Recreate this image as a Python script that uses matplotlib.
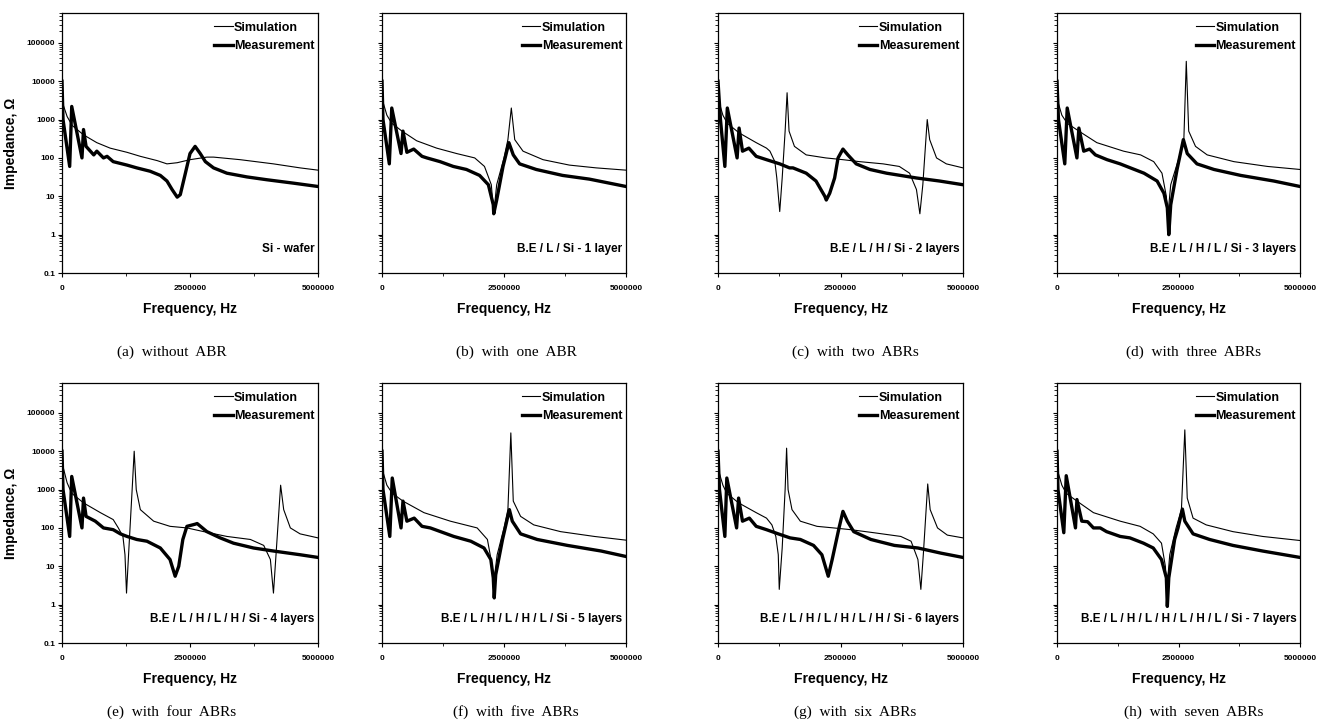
import numpy as np
import matplotlib
matplotlib.use("Agg")
import matplotlib.pyplot as plt
from matplotlib.ticker import FixedLocator, NullFormatter, LogLocator

# frequencies in MHz (converted to Hz when plotting), impedance in ohm
# (a) without ABR
a_meas_f = [0, 0.02, 0.15, 0.19, 0.39, 0.42, 0.47, 0.62, 0.68, 0.81, 0.88, 1.0, 1.27, 1.46, 1.72, 1.92, 2.05, 2.15, 2.25, 2.31, 2.41, 2.5, 2.6, 2.7, 2.8, 2.96, 3.22, 3.61, 4.0, 4.52, 5.0]
a_meas_z = [10000, 1000, 60, 2200, 100, 550, 200, 120, 150, 100, 110, 80, 65, 55, 45, 35, 25, 15, 9.5, 11, 40, 130, 200, 130, 80, 55, 40, 32, 27, 22, 18]
a_sim_f = [0, 0.1, 0.2, 0.42, 0.68, 0.94, 1.27, 1.53, 1.86, 2.05, 2.25, 2.5, 2.83, 2.96, 3.48, 4.13, 4.65, 5.0]
a_sim_z = [3000, 1200, 700, 400, 250, 180, 140, 110, 85, 70, 75, 90, 105, 105, 90, 70, 55, 48]

# (b) with one ABR
b_meas_f = [0, 0.02, 0.15, 0.2, 0.39, 0.43, 0.51, 0.65, 0.82, 0.92, 1.19, 1.46, 1.73, 2.0, 2.18, 2.28, 2.29, 2.35, 2.48, 2.6, 2.69, 2.82, 3.16, 3.7, 4.25, 5.0]
b_meas_z = [10000, 1000, 70, 2000, 130, 500, 140, 170, 110, 100, 80, 60, 50, 35, 20, 6, 3.5, 8, 60, 250, 120, 70, 50, 35, 28, 18]
b_sim_f = [0, 0.1, 0.2, 0.41, 0.71, 1.12, 1.53, 1.9, 2.1, 2.24, 2.29, 2.35, 2.5, 2.58, 2.65, 2.72, 2.89, 3.3, 3.84, 4.39, 5.0]
b_sim_z = [3500, 1300, 800, 500, 280, 180, 130, 100, 60, 20, 3.5, 20, 100, 300, 2000, 300, 150, 90, 65, 55, 48]

# (c) with two ABRs
c_meas_f = [0, 0.05, 0.14, 0.19, 0.39, 0.43, 0.5, 0.63, 0.78, 0.99, 1.26, 1.46, 1.53, 1.8, 2.0, 2.18, 2.21, 2.28, 2.38, 2.45, 2.55, 2.65, 2.82, 3.1, 3.44, 4.05, 4.52, 5.0]
c_meas_z = [10000, 1000, 60, 2000, 100, 600, 150, 180, 110, 90, 70, 55, 55, 40, 25, 10, 8, 12, 30, 100, 170, 120, 70, 50, 40, 30, 25, 20]
c_sim_f = [0, 0.1, 0.19, 0.43, 0.78, 0.99, 1.06, 1.16, 1.2, 1.26, 1.31, 1.37, 1.41, 1.45, 1.56, 1.8, 2.2, 2.55, 2.89, 3.37, 3.7, 3.91, 4.05, 4.12, 4.18, 4.27, 4.32, 4.46, 4.66, 5.0]
c_sim_z = [3500, 1300, 800, 450, 250, 180, 150, 80, 30, 4, 30, 500, 5000, 500, 200, 120, 100, 90, 80, 70, 60, 40, 15, 3.5, 20, 1000, 300, 100, 70, 55]

# (d) with three ABRs
d_meas_f = [0, 0.03, 0.16, 0.21, 0.41, 0.45, 0.55, 0.67, 0.79, 1.03, 1.3, 1.51, 1.79, 2.06, 2.2, 2.27, 2.3, 2.34, 2.47, 2.6, 2.68, 2.88, 3.23, 3.78, 4.46, 5.0]
d_meas_z = [10000, 1000, 70, 2000, 100, 600, 150, 170, 120, 90, 70, 55, 40, 25, 12, 5, 1, 6, 50, 300, 130, 70, 50, 35, 25, 18]
d_sim_f = [0, 0.1, 0.21, 0.45, 0.82, 1.37, 1.72, 1.99, 2.16, 2.25, 2.28, 2.34, 2.51, 2.61, 2.66, 2.71, 2.85, 3.09, 3.64, 4.33, 5.0]
d_sim_z = [3500, 1300, 800, 500, 250, 150, 120, 80, 40, 10, 3, 20, 100, 300, 33000, 500, 200, 120, 80, 60, 50]

# (e) with four ABRs
e_meas_f = [0, 0.02, 0.15, 0.19, 0.39, 0.42, 0.47, 0.65, 0.81, 1.0, 1.14, 1.27, 1.46, 1.66, 1.92, 2.11, 2.21, 2.28, 2.36, 2.44, 2.6, 2.64, 2.83, 3.09, 3.35, 3.74, 4.13, 4.65, 5.0]
e_meas_z = [10000, 1000, 60, 2200, 100, 600, 200, 150, 100, 90, 70, 60, 50, 45, 30, 15, 5.5, 10, 50, 110, 125, 130, 80, 55, 40, 30, 25, 20, 17]
e_sim_f = [0, 0.1, 0.19, 0.42, 0.75, 1.0, 1.1, 1.19, 1.23, 1.26, 1.3, 1.37, 1.41, 1.45, 1.53, 1.79, 2.11, 2.44, 2.77, 3.22, 3.68, 3.94, 4.07, 4.13, 4.18, 4.27, 4.33, 4.46, 4.65, 5.0]
e_sim_z = [5000, 1500, 800, 450, 250, 165, 100, 60, 20, 2, 20, 1000, 10000, 1000, 300, 150, 110, 100, 80, 60, 50, 35, 15, 2, 20, 1300, 300, 100, 70, 55]

# (f) with five ABRs
f_meas_f = [0, 0.02, 0.16, 0.21, 0.39, 0.43, 0.51, 0.66, 0.82, 0.99, 1.2, 1.47, 1.82, 2.09, 2.23, 2.28, 2.3, 2.33, 2.47, 2.61, 2.67, 2.84, 3.18, 3.8, 4.49, 5.0]
f_meas_z = [10000, 1000, 60, 2000, 100, 500, 150, 180, 110, 100, 80, 60, 45, 30, 15, 5, 1.5, 6, 50, 300, 150, 70, 50, 35, 25, 18]
f_sim_f = [0, 0.1, 0.21, 0.43, 0.86, 1.4, 1.95, 2.16, 2.26, 2.28, 2.36, 2.5, 2.58, 2.64, 2.69, 2.84, 3.11, 3.66, 4.35, 5.0]
f_sim_z = [3500, 1300, 800, 500, 250, 150, 100, 50, 10, 3, 20, 100, 300, 30000, 500, 200, 120, 80, 60, 48]

# (g) with six ABRs
g_meas_f = [0, 0.03, 0.14, 0.18, 0.38, 0.42, 0.5, 0.64, 0.78, 0.99, 1.23, 1.47, 1.68, 1.95, 2.12, 2.25, 2.33, 2.47, 2.55, 2.64, 2.77, 3.12, 3.6, 4.08, 4.55, 5.0]
g_meas_z = [10000, 1000, 60, 2000, 100, 600, 150, 180, 110, 90, 70, 55, 50, 35, 20, 5.5, 15, 100, 270, 150, 80, 50, 35, 30, 22, 17]
g_sim_f = [0, 0.1, 0.18, 0.42, 0.78, 0.99, 1.1, 1.18, 1.23, 1.25, 1.31, 1.37, 1.4, 1.43, 1.51, 1.68, 2.02, 2.36, 2.71, 3.18, 3.73, 3.94, 4.08, 4.14, 4.19, 4.28, 4.33, 4.48, 4.68, 5.0]
g_sim_z = [3500, 1300, 800, 450, 250, 180, 120, 60, 20, 2.5, 30, 1000, 12000, 1000, 300, 150, 110, 100, 90, 75, 60, 45, 15, 2.5, 20, 1400, 300, 100, 65, 55]

# (h) with seven ABRs
h_meas_f = [0, 0.02, 0.14, 0.19, 0.38, 0.41, 0.51, 0.63, 0.75, 0.89, 1.02, 1.3, 1.5, 1.78, 1.98, 2.15, 2.25, 2.27, 2.3, 2.42, 2.49, 2.58, 2.63, 2.8, 3.14, 3.62, 4.23, 5.0]
h_meas_z = [10000, 1000, 75, 2300, 100, 550, 150, 145, 100, 100, 80, 60, 55, 40, 30, 15, 5, 0.9, 5, 50, 100, 310, 150, 70, 50, 35, 25, 17]
h_sim_f = [0, 0.1, 0.19, 0.41, 0.75, 1.3, 1.71, 1.98, 2.15, 2.23, 2.26, 2.32, 2.45, 2.56, 2.63, 2.68, 2.8, 3.07, 3.62, 4.23, 5.0]
h_sim_z = [3500, 1300, 800, 500, 250, 150, 110, 70, 40, 10, 2.5, 20, 100, 300, 36000, 600, 180, 120, 80, 60, 47]

captions = ["(a)  without  ABR", "(b)  with  one  ABR", "(c)  with  two  ABRs", "(d)  with  three  ABRs",
            "(e)  with  four  ABRs", "(f)  with  five  ABRs", "(g)  with  six  ABRs", "(h)  with  seven  ABRs"]
notes = ["Si - wafer", "B.E / L / Si - 1 layer", "B.E / L / H / Si - 2 layers", "B.E / L / H / L / Si - 3 layers",
         "B.E / L / H / L / H / Si - 4 layers", "B.E / L / H / L / H / L / Si - 5 layers",
         "B.E / L / H / L / H / L / H / Si - 6 layers", "B.E / L / H / L / H / L / H / L / Si - 7 layers"]

sims = [(a_sim_f, a_sim_z), (b_sim_f, b_sim_z), (c_sim_f, c_sim_z), (d_sim_f, d_sim_z),
        (e_sim_f, e_sim_z), (f_sim_f, f_sim_z), (g_sim_f, g_sim_z), (h_sim_f, h_sim_z)]
meas = [(a_meas_f, a_meas_z), (b_meas_f, b_meas_z), (c_meas_f, c_meas_z), (d_meas_f, d_meas_z),
        (e_meas_f, e_meas_z), (f_meas_f, f_meas_z), (g_meas_f, g_meas_z), (h_meas_f, h_meas_z)]

W, H = 1325, 727
fig = plt.figure(figsize=(W / 100, H / 100), dpi=100)
sans = ["Liberation Sans Narrow", "Liberation Sans", "DejaVu Sans"]

# axes boxes in pixels: left, right (per column), top, bottom (per row)
cols = [(62, 318), (382, 626), (718, 963), (1057, 1300)]
rows = [(13, 273), (383, 643)]
cap_x = [172, 516, 855, 1194]
cap_y = [352, 712]

for i in range(8):
    r, c = divmod(i, 4)
    x0, x1 = cols[c]
    y0, y1 = rows[r]
    ax = fig.add_axes([x0 / W, 1 - y1 / H, (x1 - x0) / W, (y1 - y0) / H])
    sf, sz = sims[i]
    mf, mz = meas[i]
    ax.plot(np.array(sf) * 1e6, sz, color="black", lw=0.8, label="Simulation")
    ax.plot(np.array(mf) * 1e6, mz, color="black", lw=2.4, label="Measurement")
    ax.set_yscale("log")
    ax.set_xlim(0, 5e6)
    ax.set_ylim(0.1, 6e5)
    ax.set_xticks([0, 2500000, 5000000])
    ax.set_xticklabels(["0", "2500000", "5000000"], fontfamily=sans, fontsize=6, fontweight="bold")
    ax.xaxis.set_minor_locator(FixedLocator([1250000, 3750000]))
    ax.yaxis.set_major_locator(FixedLocator([0.1, 1, 10, 100, 1000, 10000, 100000]))
    ax.yaxis.set_minor_locator(LogLocator(base=10, subs=np.arange(2, 10)))
    ax.yaxis.set_minor_formatter(NullFormatter())
    ax.tick_params(axis="both", which="major", length=3, width=0.8, pad=6)
    ax.tick_params(axis="both", which="minor", length=2, width=0.6)
    if c == 0:
        ax.set_yticklabels(["0.1", "1", "10", "100", "1000", "10000", "100000"],
                           fontfamily=sans, fontsize=6, fontweight="bold")
        ax.tick_params(axis="y", pad=2)
        ax.set_ylabel("Impedance, Ω", fontfamily=sans, fontsize=10, fontweight="bold", labelpad=6)
    else:
        ax.set_yticklabels([])
    for s in ax.spines.values():
        s.set_linewidth(0.9)
    ax.set_xlabel("Frequency, Hz", fontfamily=sans, fontsize=10, fontweight="bold", labelpad=7)
    ax.legend(loc="upper right", bbox_to_anchor=(1.02, 1.0), frameon=False, handlelength=1.5,
              handletextpad=0.1, labelspacing=0.5, borderaxespad=0.3,
              prop={"family": sans, "weight": "bold", "size": 9})
    ax.text(0.985, 0.07, notes[i], transform=ax.transAxes, ha="right", va="bottom",
            fontfamily=sans, fontsize=8.5, fontweight="bold")
    fig.text(cap_x[i % 4] / W, 1 - cap_y[r] / H, captions[i], ha="center", va="center",
             fontfamily="Liberation Serif", fontsize=11)

fig.savefig("out.png", dpi=100)
